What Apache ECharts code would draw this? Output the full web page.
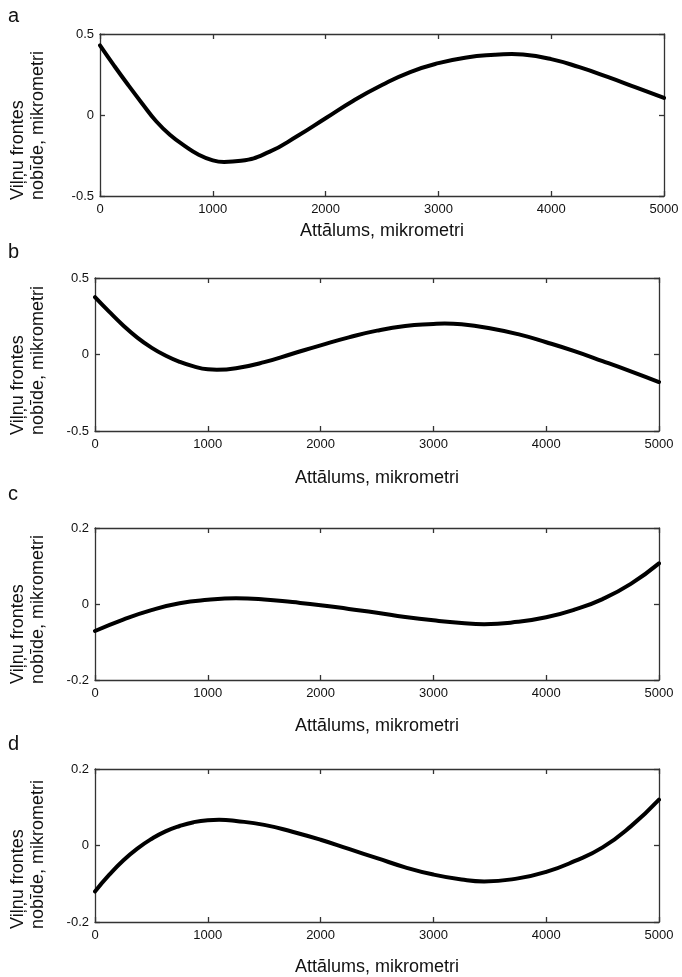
<!DOCTYPE html>
<html>
<head>
<meta charset="utf-8">
<script src="https://cdn.jsdelivr.net/npm/echarts@6/dist/echarts.min.js"></script>
<style>
  html, body { margin: 0; padding: 0; background: #fff; }
  #chart { width: 682px; height: 977px; }
</style>
</head>
<body>
<div id="chart"></div>
<script>
// Distance along the sample (micrometres), one list per panel
const distanceA = [0, 125, 250, 375, 500, 625, 750, 875, 1000, 1100, 1250, 1500, 1750, 2000, 2250, 2500,
                   2750, 3000, 3250, 3500, 3650, 3750, 4000, 4250, 4500, 4750, 5000];
const distanceB = [0, 125, 250, 375, 500, 625, 750, 875, 1000, 1080, 1250, 1500, 1750, 2000, 2250, 2500,
                   2750, 3000, 3100, 3250, 3500, 3750, 4000, 4250, 4500, 4750, 5000];
const distanceC = [0, 250, 500, 750, 1000, 1250, 1500, 1750, 2000, 2250, 2500,
                   2750, 3000, 3250, 3450, 3750, 4000, 4250, 4500, 4750, 5000];
const distanceD = [0, 125, 250, 375, 500, 625, 750, 875, 1000, 1100, 1250, 1500, 1750, 2000, 2250, 2500,
                   2750, 3000, 3250, 3450, 3750, 4000, 4250, 4500, 4750, 5000];

// Wavefront displacement (micrometres) for each panel
const waveA = [0.43, 0.305, 0.185, 0.07, -0.04, -0.125, -0.19, -0.245, -0.28, -0.29, -0.283, -0.228,
               -0.13, -0.02, 0.09, 0.185, 0.265, 0.32, 0.355, 0.372, 0.376, 0.373, 0.345, 0.295,
               0.235, 0.17, 0.105];
const waveB = [0.375, 0.28, 0.19, 0.11, 0.045, -0.007, -0.048, -0.078, -0.097, -0.1, -0.09, -0.05,
               0.005, 0.06, 0.112, 0.156, 0.186, 0.199, 0.202, 0.197, 0.172, 0.133, 0.08, 0.022,
               -0.043, -0.11, -0.18];
const waveC = [-0.071, -0.041, -0.016, 0.002, 0.011, 0.015, 0.012, 0.005, -0.003, -0.013, -0.023,
               -0.034, -0.043, -0.05, -0.053, -0.047, -0.035, -0.015, 0.013, 0.053, 0.107];
const waveD = [-0.12, -0.077, -0.039, -0.008, 0.017, 0.037, 0.051, 0.061, 0.066, 0.067, 0.064, 0.054,
               0.036, 0.015, -0.009, -0.033, -0.057, -0.076, -0.089, -0.094, -0.086, -0.069, -0.041,
               -0.005, 0.05, 0.12];

const panelLetters = ['a', 'b', 'c', 'd'];
const yLimits = [0.5, 0.5, 0.2, 0.2];
const xTitle = 'Attālums, mikrometri';
const yTitle = ['Viļņu frontes', 'nobīde, mikrometri'];

const distances = [distanceA, distanceB, distanceC, distanceD];
const waves = [waveA, waveB, waveC, waveD];

// Plot boxes (px)
const boxes = [
  { left: 100, top: 34,  width: 564, height: 162, nameGap: 26, letterY: 17 },
  { left: 95,  top: 278, width: 564, height: 153, nameGap: 38, letterY: 253 },
  { left: 95,  top: 528, width: 564, height: 152, nameGap: 37, letterY: 495 },
  { left: 95,  top: 769, width: 564, height: 156, nameGap: 36, letterY: 745 }
];

const FONT = '"Liberation Sans", Arial, Helvetica, sans-serif';
const AXIS_COLOR = '#333';

const grid = [], xAxis = [], yAxis = [], series = [], graphic = [];

boxes.forEach((b, i) => {
  grid.push({ left: b.left, top: b.top, width: b.width, height: b.height, containLabel: false });
  const lim = yLimits[i];
  const lineStyle = { color: AXIS_COLOR, width: 1.3 };
  // bottom axis with labels
  xAxis.push({
    type: 'value', gridIndex: i, min: 0, max: 5000, interval: 1000,
    position: 'bottom',
    axisLine: { show: true, onZero: false, lineStyle },
    axisTick: { show: true, inside: true, length: 5, lineStyle },
    axisLabel: { color: '#111', fontFamily: FONT, fontSize: 13, margin: 7,
                 formatter: v => String(v) },
    splitLine: { show: false },
    name: xTitle, nameLocation: 'middle', nameGap: b.nameGap,
    nameTextStyle: { color: '#111', fontFamily: FONT, fontSize: 18 }
  });
  // top frame edge
  xAxis.push({
    type: 'value', gridIndex: i, min: 0, max: 5000, interval: 1000,
    position: 'top',
    axisLine: { show: true, onZero: false, lineStyle },
    axisTick: { show: true, inside: true, length: 5, lineStyle },
    axisLabel: { show: false }, splitLine: { show: false }
  });
  // left axis with labels
  yAxis.push({
    type: 'value', gridIndex: i, min: -lim, max: lim, interval: lim,
    position: 'left',
    axisLine: { show: true, onZero: false, lineStyle },
    axisTick: { show: true, inside: true, length: 5, lineStyle },
    axisLabel: { color: '#111', fontFamily: FONT, fontSize: 13, margin: 6,
                 formatter: v => String(v) },
    splitLine: { show: false }
  });
  // right frame edge
  yAxis.push({
    type: 'value', gridIndex: i, min: -lim, max: lim, interval: lim,
    position: 'right',
    axisLine: { show: true, onZero: false, lineStyle },
    axisTick: { show: true, inside: true, length: 5, lineStyle },
    axisLabel: { show: false }, splitLine: { show: false }
  });

  series.push({
    type: 'line', xAxisIndex: i * 2, yAxisIndex: i * 2,
    data: distances[i].map((x, k) => [x, waves[i][k]]),
    smooth: 0.5, showSymbol: false, symbol: 'none',
    lineStyle: { color: '#000', width: 4, cap: 'round', join: 'round' },
    silent: true, animation: false
  });

  // panel letter
  graphic.push({
    type: 'text', left: 8, top: b.letterY - 11,
    style: { text: panelLetters[i], fill: '#111', font: '20px ' + FONT }
  });
  // two-line vertical axis title, reading bottom-to-top
  const bottom = b.top + b.height + 4;
  graphic.push({
    type: 'text', x: 18, y: bottom, rotation: Math.PI / 2,
    style: { text: yTitle[0], fill: '#111', font: '18px ' + FONT,
             textAlign: 'left', textVerticalAlign: 'middle' }
  });
  graphic.push({
    type: 'text', x: 38, y: bottom, rotation: Math.PI / 2,
    style: { text: yTitle[1], fill: '#111', font: '18px ' + FONT,
             textAlign: 'left', textVerticalAlign: 'middle' }
  });
});

const chart = echarts.init(document.getElementById('chart'), null, { renderer: 'canvas' });
chart.setOption({
  animation: false,
  backgroundColor: '#fff',
  grid, xAxis, yAxis, series, graphic
});
</script>
</body>
</html>
